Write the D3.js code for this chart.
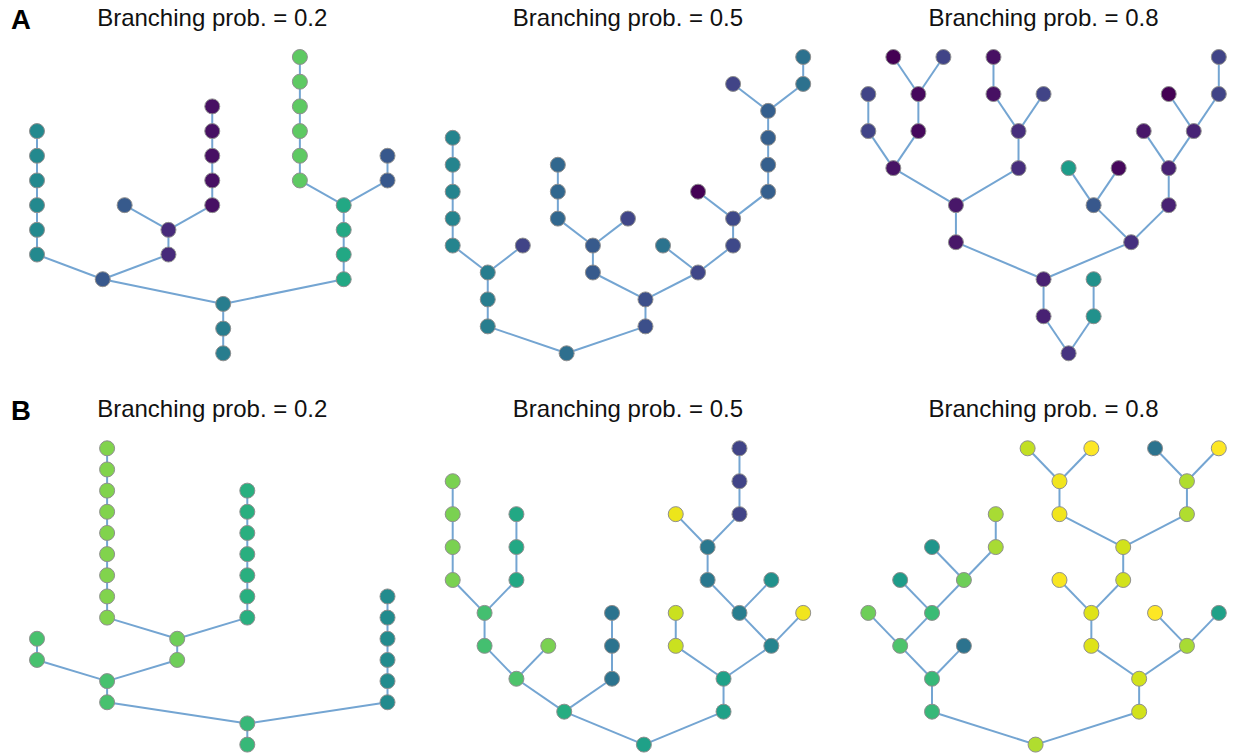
<!DOCTYPE html>
<html>
<head>
<meta charset="utf-8">
<script src="https://cdn.jsdelivr.net/npm/d3@7"></script>
<style>
  body { margin: 0; background: #fff; }
  svg { display: block; font-family: "Liberation Sans", Arial, sans-serif; }
</style>
</head>
<body>
<svg id="chart" width="1238" height="755"></svg>
<script>
// Each row: [node id, parent id, colour value on the viridis scale (0-1)].
// Children are listed left to right; the root has no parent.

const treeA1 = [
  [0, null, .42], [1, 0, .42], [2, 1, .42],
  [3, 2, .27],
  [4, 3, .47], [5, 4, .47], [6, 5, .47], [7, 6, .47], [8, 7, .47], [9, 8, .47],
  [10, 3, .12], [11, 10, .12],
  [12, 11, .28],
  [13, 11, .04], [14, 13, .04], [15, 14, .04], [16, 15, .04], [17, 16, .04],
  [18, 2, .6], [19, 18, .6], [20, 19, .6], [21, 20, .6],
  [22, 21, .75], [23, 22, .75], [24, 23, .75], [25, 24, .75], [26, 25, .75], [27, 26, .75],
  [28, 21, .27], [29, 28, .27]
];

const treeA2 = [
  [0, null, .36],
  [1, 0, .42], [2, 1, .42], [3, 2, .42],
  [4, 3, .45], [5, 4, .45], [6, 5, .45], [7, 6, .45], [8, 7, .45],
  [9, 3, .2],
  [10, 0, .24], [11, 10, .24],
  [12, 11, .28], [13, 12, .28],
  [14, 13, .33], [15, 14, .33], [16, 15, .33],
  [17, 13, .21],
  [18, 11, .21],
  [19, 18, .38],
  [20, 18, .22], [21, 20, .22],
  [22, 21, .0],
  [23, 21, .3], [24, 23, .3], [25, 24, .3], [26, 25, .3],
  [27, 26, .2],
  [28, 26, .37], [29, 28, .37]
];

const treeA3 = [
  [0, null, .15],
  [1, 0, .09], [2, 1, .09],
  [3, 2, .06], [4, 3, .06],
  [5, 4, .05],
  [6, 5, .2], [7, 6, .2],
  [8, 5, .02], [9, 8, .02],
  [10, 9, .0],
  [11, 9, .2],
  [12, 4, .13], [13, 12, .13],
  [14, 13, .04], [15, 14, .04],
  [16, 13, .2],
  [17, 2, .14],
  [18, 17, .27],
  [19, 18, .55],
  [20, 18, .02],
  [21, 17, .09], [22, 21, .09],
  [23, 22, .06],
  [24, 22, .1],
  [25, 24, .0],
  [26, 24, .2], [27, 26, .2],
  [28, 0, .5], [29, 28, .5]
];

const treeB1 = [
  [0, null, .67], [1, 0, .67],
  [2, 1, .71], [3, 2, .71],
  [4, 3, .71], [5, 4, .71],
  [6, 3, .78], [7, 6, .78],
  [8, 7, .81], [9, 8, .81], [10, 9, .81], [11, 10, .81], [12, 11, .81],
  [13, 12, .81], [14, 13, .81], [15, 14, .81], [16, 15, .81],
  [17, 7, .63], [18, 17, .63], [19, 18, .63], [20, 19, .63], [21, 20, .63],
  [22, 21, .63], [23, 22, .63],
  [24, 1, .48], [25, 24, .48], [26, 25, .48], [27, 26, .48], [28, 27, .48], [29, 28, .48]
];

const treeB2 = [
  [0, null, .57],
  [1, 0, .62],
  [2, 1, .72],
  [3, 2, .7], [4, 3, .7],
  [5, 4, .8], [6, 5, .8], [7, 6, .8], [8, 7, .8],
  [9, 4, .6], [10, 9, .6], [11, 10, .6],
  [12, 2, .8],
  [13, 1, .38], [14, 13, .38], [15, 14, .38],
  [16, 0, .57], [17, 16, .57],
  [18, 17, .92], [19, 18, .92],
  [20, 17, .45],
  [21, 20, .42],
  [22, 21, .4], [23, 22, .4],
  [24, 23, .97],
  [25, 23, .2], [26, 25, .2], [27, 26, .2],
  [28, 21, .5],
  [29, 20, .98]
];

const treeB3 = [
  [0, null, .88],
  [1, 0, .67], [2, 1, .67],
  [3, 2, .72],
  [4, 3, .78],
  [5, 3, .68],
  [6, 5, .55],
  [7, 5, .78],
  [8, 7, .52],
  [9, 7, .87], [10, 9, .87],
  [11, 2, .38],
  [12, 0, .93], [13, 12, .93],
  [14, 13, .95], [15, 14, .95],
  [16, 15, .99],
  [17, 15, .93], [18, 17, .93],
  [19, 18, .98], [20, 19, .98],
  [21, 20, .91],
  [22, 20, 1.0],
  [23, 18, .88], [24, 23, .88],
  [25, 24, .38],
  [26, 24, 1.0],
  [27, 13, .87],
  [28, 27, 1.0],
  [29, 27, .57]
];

const branchProbs = ["0.2", "0.5", "0.8"];
const rowLabels = ["A", "B"];
const rowTrees = [
  [treeA1, treeA2, treeA3],
  [treeB1, treeB2, treeB3]
];

// ---- layout ----
const colLeft = [37, 452.7, 868.3];
const colWidth = 350.5;
const rowTop = [57, 448.3];
const rowHeight = 296.3;
const nodeRadius = 7.5;

const svg = d3.select("#chart");
const colour = d3.scaleSequential(d3.interpolateViridis).domain([0, 1]);

rowTrees.forEach((trees, r) => {
  svg.append("text")
    .attr("x", 11)
    .attr("y", rowTop[r] - 28.5)
    .attr("font-size", 27.5)
    .attr("font-weight", "bold")
    .attr("fill", "#000")
    .text(rowLabels[r]);

  trees.forEach((rows, c) => {
    const root = d3.stratify()
      .id(d => d[0])
      .parentId(d => d[1])(rows);
    d3.tree().nodeSize([1, 1]).separation(() => 1)(root);
    const nodes = root.descendants();

    const x = d3.scaleLinear()
      .domain(d3.extent(nodes, d => d.x))
      .range([colLeft[c], colLeft[c] + colWidth]);
    const y = d3.scaleLinear()
      .domain([0, root.height])
      .range([rowTop[r] + rowHeight, rowTop[r]]);

    const g = svg.append("g");

    g.append("text")
      .attr("x", colLeft[c] + colWidth / 2)
      .attr("y", rowTop[r] - 31.5)
      .attr("text-anchor", "middle")
      .attr("font-size", 24)
      .attr("fill", "#111")
      .text(`Branching prob. = ${branchProbs[c]}`);

    g.append("g").selectAll("line")
      .data(root.links())
      .join("line")
      .attr("x1", d => x(d.source.x))
      .attr("y1", d => y(d.source.depth))
      .attr("x2", d => x(d.target.x))
      .attr("y2", d => y(d.target.depth))
      .attr("stroke", "#74a5d2")
      .attr("stroke-width", 2);

    g.append("g").selectAll("circle")
      .data(nodes)
      .join("circle")
      .attr("cx", d => x(d.x))
      .attr("cy", d => y(d.depth))
      .attr("r", nodeRadius)
      .attr("fill", d => colour(d.data[2]))
      .attr("stroke", "#8f8f8f")
      .attr("stroke-width", 1);
  });
});
</script>
</body>
</html>
